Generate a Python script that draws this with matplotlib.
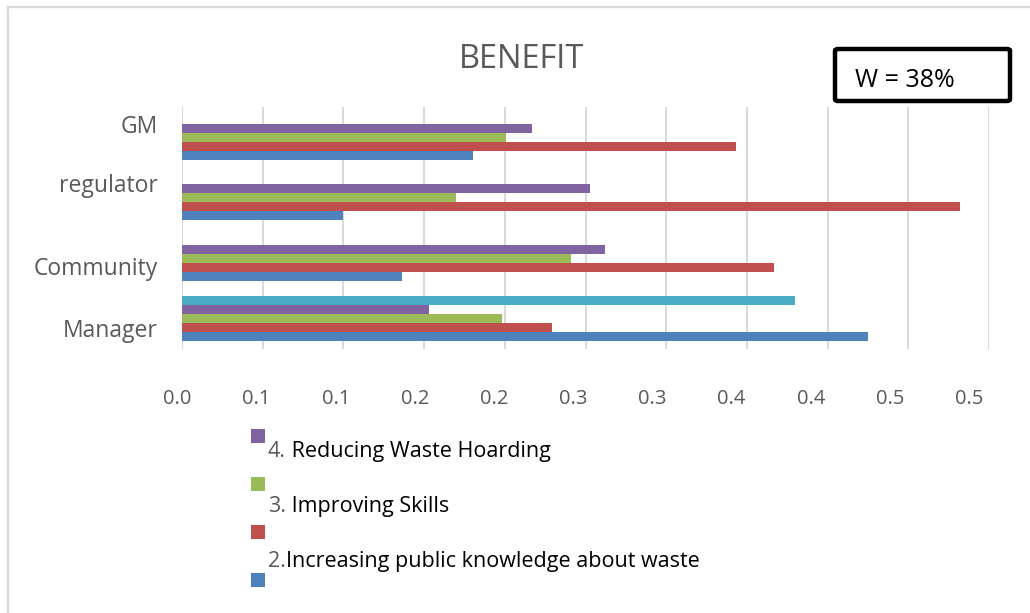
import matplotlib
matplotlib.use("Agg")
import matplotlib.pyplot as plt
import matplotlib.transforms as mtransforms
from matplotlib.patches import Rectangle, FancyBboxPatch
from matplotlib.lines import Line2D
import numpy as np

# ---- data -------------------------------------------------------------
categories = ["Manager", "Community", "regulator", "GM"]

series_blue = [0.425, 0.136, 0.100, 0.180]
series_red = [0.229, 0.367, 0.482, 0.343]
series_green = [0.198, 0.241, 0.170, 0.201]
series_purple = [0.153, 0.262, 0.253, 0.217]
series_cyan = [0.380, np.nan, np.nan, np.nan]

x_ticks = [0.0, 0.05, 0.10, 0.15, 0.20, 0.25, 0.30, 0.35, 0.40, 0.45, 0.50]
x_tick_labels = ["0.0", "0.1", "0.1", "0.2", "0.2", "0.3", "0.3",
                 "0.4", "0.4", "0.5", "0.5"]

legend_numbers = ["4.", "3.", "2."]
legend_texts = [" Reducing Waste Hoarding", " Improving Skills",
                "Increasing public knowledge about waste"]

title_text = "BENEFIT"
note_text = "W = 38%"

# ---- style ------------------------------------------------------------
BLUE, RED, GREEN, PURPLE, CYAN = "#4F81BD", "#C0504D", "#9BBB59", "#8064A2", "#4BACC6"
GREY_TXT = "#595959"
GRID = "#d9d9d9"
FONT = "Open Sans"

W, H = 1030, 613
fig = plt.figure(figsize=(W / 100, H / 100), dpi=100)
fig.patch.set_facecolor("white")


def fx(px):
    return px / W


def fy(py):
    return 1 - py / H


ax = fig.add_axes([fx(182), fy(349), fx(989) - fx(182), fy(107) - fy(349)])

series = [series_blue, series_red, series_green, series_purple, series_cyan]
colors = [BLUE, RED, GREEN, PURPLE, CYAN]
bar_h = 0.148
ypos = np.arange(len(categories))
for k, (vals, col) in enumerate(zip(series, colors)):
    ax.barh(ypos + (k - 2) * bar_h, vals, height=bar_h, color=col,
            edgecolor="none", zorder=3)

ax.set_xlim(0, 0.5)
ax.set_ylim(-0.5, 3.5)
ax.set_xticks(x_ticks)
ax.set_xticklabels(x_tick_labels, fontsize=14.5, color=GREY_TXT, family=FONT)
ax.set_yticks(ypos)
ax.set_yticklabels(categories, fontsize=16.5, color=GREY_TXT, family=FONT)
ax.tick_params(axis="both", length=0)
ax.tick_params(axis="x", pad=29)
ax.tick_params(axis="y", pad=17.5)
ax.xaxis.grid(True, color=GRID, linewidth=1.4, zorder=0)
ax.yaxis.grid(False)
ax.set_axisbelow(True)
for sp in ax.spines.values():
    sp.set_visible(False)

# nudge tick labels to their placement in the layout
dpi_scale = fig.dpi_scale_trans
for i, lab in enumerate(ax.get_xticklabels()):
    dx = (-4.5 - 1.55 * i) / 100
    lab.set_transform(lab.get_transform() + mtransforms.ScaledTranslation(dx, 0, dpi_scale))
ylabel_shift_px = [9, 8, -15, -13]
for lab, dpx in zip(ax.get_yticklabels(), ylabel_shift_px):
    lab.set_transform(lab.get_transform() + mtransforms.ScaledTranslation(0, -dpx / 100, dpi_scale))

# title
fig.text(fx(522), fy(55), title_text, ha="center", va="center_baseline",
         fontsize=23.5, color=GREY_TXT, family=FONT)

# note box
box = FancyBboxPatch((fx(835), fy(101)), fx(1010) - fx(835), fy(49) - fy(101),
                     boxstyle="round,pad=0,rounding_size=0.003",
                     transform=fig.transFigure, facecolor="white",
                     edgecolor="black", linewidth=3.2, zorder=5)
fig.add_artist(box)
fig.text(fx(855), fy(87), note_text, ha="left", va="baseline",
         fontsize=18, color="black", family=FONT, zorder=6)

# chart-area frame (left and top edges)
fig.add_artist(Line2D([fx(8), fx(8)], [fy(7), 0], transform=fig.transFigure,
                      color=GRID, linewidth=1.6))
fig.add_artist(Line2D([fx(8), 1], [fy(7), fy(7)], transform=fig.transFigure,
                      color=GRID, linewidth=1.6))

# legend: colour squares
sq = 14
for col, cy in zip([PURPLE, GREEN, RED, BLUE], [436, 484, 532, 580]):
    fig.add_artist(Rectangle((fx(251), fy(cy + sq / 2)), fx(sq), sq / H,
                             transform=fig.transFigure, facecolor=col,
                             edgecolor="none"))

# legend: labels (number in grey, wording in black)
fig.canvas.draw()
renderer = fig.canvas.get_renderer()
for num, txt, base in zip(legend_numbers, legend_texts, [456.7, 511.7, 566.7]):
    t1 = fig.text(fx(268), fy(base), num, ha="left", va="baseline",
                  fontsize=15.5, color=GREY_TXT, family=FONT)
    bb = t1.get_window_extent(renderer)
    fig.text(bb.x1 / W, fy(base), txt, ha="left", va="baseline",
             fontsize=15.5, color="black", family=FONT)

fig.savefig("out.png", dpi=100, facecolor="white")
